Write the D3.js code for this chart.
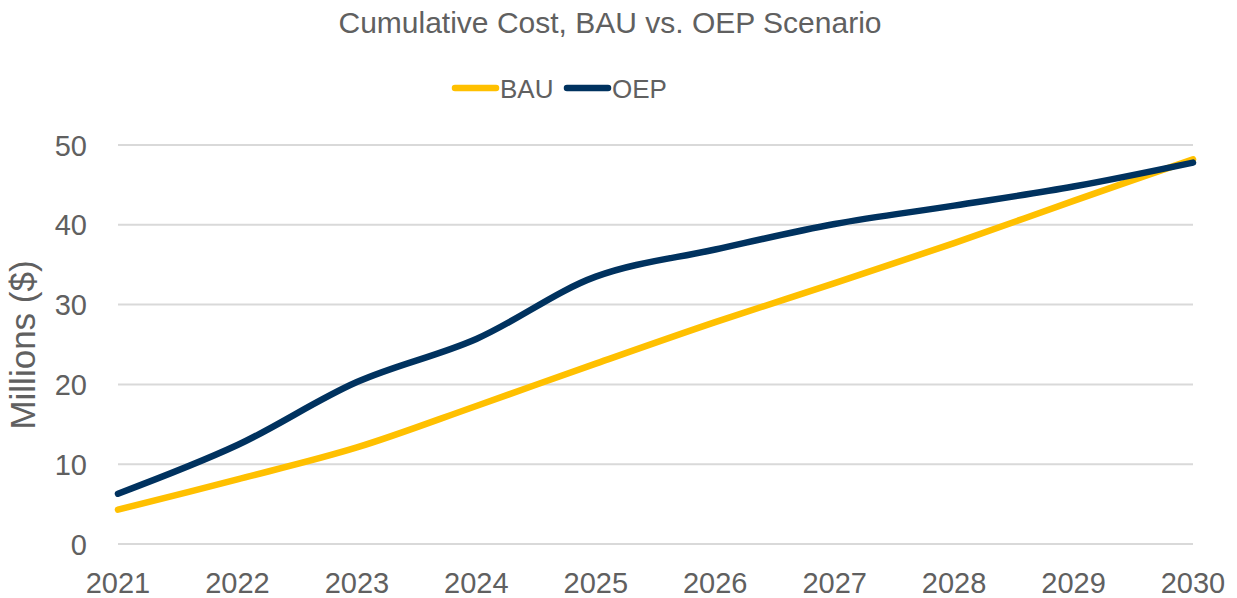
<html lang="en">
<head>
<meta charset="UTF-8">
<title>Cumulative Cost</title>
<script src="https://unpkg.com/d3@7/dist/d3.min.js"></script>
<style>
    body { margin: 0; padding: 0; background: #fff; }
    text { font-family: "Liberation Sans", Arial, sans-serif; fill: #606060; }
</style>
</head>
<body>
<svg width="1237" height="598"></svg>
<script>
var years = ['2021','2022','2023','2024','2025','2026','2027','2028','2029','2030']
var bau = [4.3, 8.1, 12.1, 17.3, 22.6, 27.8, 32.7, 37.7, 43.0, 48.2]
var oep = [6.3, 12.4, 20.3, 25.7, 33.5, 36.9, 40.1, 42.4, 44.8, 47.8]
var yTicks = [0, 10, 20, 30, 40, 50]

var series = [
    {name: 'BAU', values: bau, color: '#FFC000'},
    {name: 'OEP', values: oep, color: '#00325F'}
]

var svg = d3.select('svg')

var x = d3.scalePoint().domain(years).range([118, 1193])
var y = d3.scaleLinear().domain([0, 50]).range([544, 145])

// gridlines
svg.append('g')
    .selectAll('line')
    .data(yTicks)
    .enter()
    .append('line')
    .attr('x1', 118)
    .attr('x2', 1193)
    .attr('y1', d => y(d))
    .attr('y2', d => y(d))
    .attr('stroke', '#d9d9d9')
    .attr('stroke-width', 2)

// y tick labels
svg.append('g')
    .selectAll('text')
    .data(yTicks)
    .enter()
    .append('text')
    .attr('x', 87)
    .attr('y', d => y(d) + 10.5)
    .attr('text-anchor', 'end')
    .style('font-size', '29px')
    .text(d => d)

// x tick labels
svg.append('g')
    .selectAll('text')
    .data(years)
    .enter()
    .append('text')
    .attr('x', d => x(d))
    .attr('y', 593)
    .attr('text-anchor', 'middle')
    .style('font-size', '29px')
    .text(d => d)

// axis title
svg.append('text')
    .attr('transform', 'translate(35,' + 345 + ') rotate(-90)')
    .attr('text-anchor', 'middle')
    .style('font-size', '35px')
    .text('Millions ($)')

// chart title
svg.append('text')
    .attr('x', 610)
    .attr('y', 33)
    .attr('text-anchor', 'middle')
    .style('font-size', '30px')
    .text('Cumulative Cost, BAU vs. OEP Scenario')

var line = d3.line()
    .x((d, i) => x(years[i]))
    .y(d => y(d))
    .curve(d3.curveCatmullRom)

svg.append('g')
    .selectAll('path')
    .data(series)
    .enter()
    .append('path')
    .attr('d', d => line(d.values))
    .attr('fill', 'none')
    .attr('stroke', d => d.color)
    .attr('stroke-width', 6.5)
    .attr('stroke-linecap', 'round')

// legend
var legend = svg.append('g')
    .selectAll('g')
    .data(series)
    .enter()
    .append('g')
    .attr('transform', (d, i) => 'translate(' + (455 + i * 112) + ',88)')
legend.append('line')
    .attr('x1', 0).attr('x2', 41)
    .attr('stroke', d => d.color)
    .attr('stroke-width', 6.5)
    .attr('stroke-linecap', 'round')
legend.append('text')
    .attr('x', 45)
    .attr('y', 10)
    .style('font-size', '26px')
    .text(d => d.name)
</script>
</body>
</html>
